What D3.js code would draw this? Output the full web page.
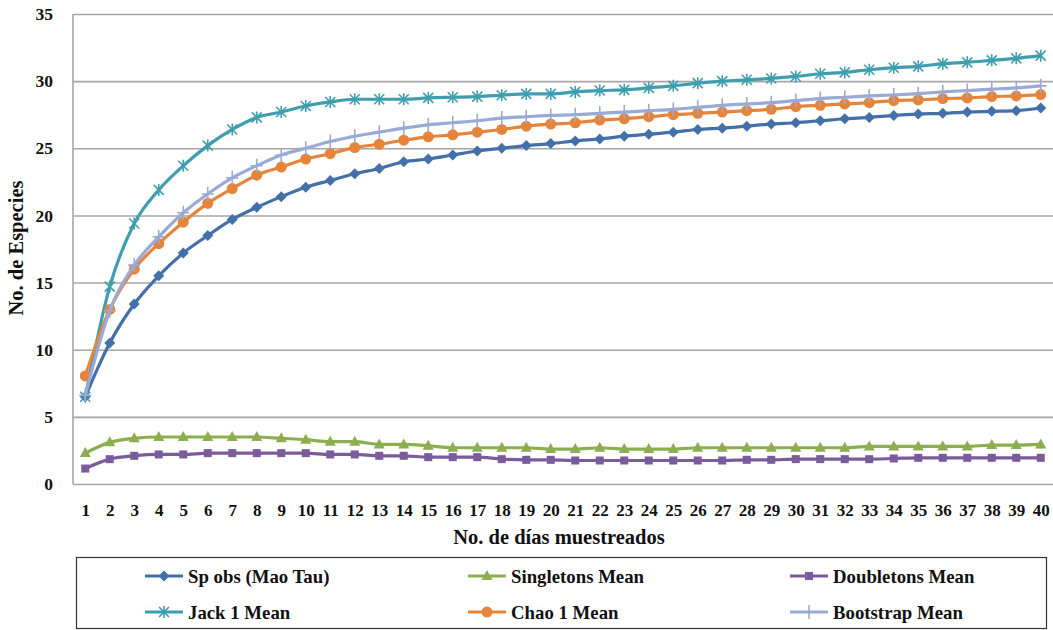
<!DOCTYPE html>
<html>
<head>
<meta charset="utf-8">
<script src="https://cdn.jsdelivr.net/npm/d3@7/dist/d3.min.js"></script>
<style>
  html, body { margin: 0; padding: 0; background: #fff; }
  svg { display: block; }
  text { font-family: "Liberation Serif", "Times New Roman", serif; font-weight: bold; fill: #111; }
</style>
</head>
<body>
<svg id="chart" width="1053" height="630"></svg>
<script>
// Sampling days 1..40
const days = d3.range(1, 41);

// Species accumulation estimators (mean values per number of sampled days)
const spObs = [6.5, 10.5, 13.4, 15.5, 17.2, 18.5, 19.7, 20.6, 21.4, 22.1,
  22.6, 23.1, 23.5, 24.0, 24.2, 24.5, 24.8, 25.0, 25.2, 25.35,
  25.55, 25.7, 25.9, 26.05, 26.2, 26.4, 26.5, 26.65, 26.8, 26.9,
  27.05, 27.2, 27.3, 27.45, 27.55, 27.6, 27.7, 27.75, 27.8, 28.0];

const singletons = [2.3, 3.1, 3.4, 3.5, 3.5, 3.5, 3.5, 3.5, 3.4, 3.3,
  3.15, 3.15, 2.95, 2.95, 2.85, 2.7, 2.7, 2.7, 2.7, 2.6,
  2.6, 2.7, 2.6, 2.6, 2.6, 2.7, 2.7, 2.7, 2.7, 2.7,
  2.7, 2.7, 2.8, 2.8, 2.8, 2.8, 2.8, 2.9, 2.9, 2.95];

const doubletons = [1.15, 1.85, 2.1, 2.2, 2.2, 2.3, 2.3, 2.3, 2.3, 2.3,
  2.2, 2.2, 2.1, 2.1, 2.0, 2.0, 2.0, 1.85, 1.8, 1.8,
  1.75, 1.75, 1.75, 1.75, 1.75, 1.75, 1.75, 1.8, 1.8, 1.85,
  1.85, 1.85, 1.85, 1.9, 1.95, 1.95, 1.95, 1.95, 1.95, 1.95];

const jack1 = [6.5, 14.7, 19.4, 21.9, 23.7, 25.2, 26.4, 27.3, 27.7, 28.15,
  28.45, 28.65, 28.65, 28.65, 28.75, 28.8, 28.85, 28.95, 29.05, 29.05,
  29.2, 29.3, 29.35, 29.5, 29.65, 29.85, 30.0, 30.1, 30.2, 30.35,
  30.55, 30.65, 30.85, 31.0, 31.1, 31.3, 31.4, 31.55, 31.7, 31.9];

const chao1 = [8.05, 13.0, 16.0, 17.9, 19.5, 20.9, 22.0, 23.0, 23.6, 24.2,
  24.6, 25.05, 25.3, 25.6, 25.85, 26.0, 26.2, 26.4, 26.65, 26.8,
  26.9, 27.1, 27.2, 27.35, 27.5, 27.6, 27.7, 27.8, 27.9, 28.1,
  28.2, 28.3, 28.4, 28.55, 28.6, 28.7, 28.75, 28.85, 28.9, 29.0];

const bootstrap = [6.6, 12.9, 16.3, 18.4, 20.2, 21.6, 22.8, 23.7, 24.5, 25.0,
  25.5, 25.9, 26.2, 26.5, 26.75, 26.9, 27.05, 27.25, 27.35, 27.45,
  27.5, 27.6, 27.7, 27.8, 27.9, 28.05, 28.2, 28.3, 28.4, 28.55,
  28.7, 28.8, 28.9, 28.97, 29.07, 29.2, 29.3, 29.4, 29.5, 29.65];

const yTicks = [0, 5, 10, 15, 20, 25, 30, 35];

const seriesNames = ["Sp obs (Mao Tau)", "Singletons Mean", "Doubletons Mean",
  "Jack 1 Mean", "Chao 1 Mean", "Bootstrap Mean"];
const seriesValues = [spObs, singletons, doubletons, jack1, chao1, bootstrap];
const seriesColors = ["#4470a9", "#8cae4f", "#7a5b9c", "#3f9eae", "#e5853c", "#9aaad6"];
const seriesMarkers = ["diamond", "triangle", "square", "asterisk", "circle", "plus"];

const yTitle = "No. de Especies";
const xTitle = "No. de días muestreados";

// Layout
const plot = { left: 73, right: 1053, top: 14, bottom: 484 };

const svg = d3.select("#chart");

const x = d3.scalePoint().domain(days).range([plot.left, plot.right]).padding(0.5);
const y = d3.scaleLinear().domain([0, 35]).range([plot.bottom, plot.top]);

// Horizontal gridlines and y labels
const yAxis = svg.append("g")
  .attr("transform", `translate(${plot.left},0)`)
  .call(d3.axisLeft(y).tickValues(yTicks).tickSize(-(plot.right - plot.left)).tickPadding(20));
yAxis.select(".domain").remove();
yAxis.selectAll(".tick line").attr("stroke", "#a6a6a6").attr("stroke-width", 1.6);
yAxis.selectAll(".tick text")
  .attr("font-size", 17.5).attr("font-family", "Liberation Serif").attr("font-weight", "bold")
  .attr("fill", "#111").attr("dy", "0.32em");

// Left axis line
svg.append("line")
  .attr("x1", plot.left).attr("x2", plot.left)
  .attr("y1", plot.top).attr("y2", plot.bottom)
  .attr("stroke", "#a6a6a6").attr("stroke-width", 1.6);

// Category axis labels
const xAxis = svg.append("g")
  .attr("transform", `translate(0,${plot.bottom})`)
  .call(d3.axisBottom(x).tickSize(0).tickPadding(20));
xAxis.select(".domain").remove();
xAxis.selectAll(".tick text")
  .attr("font-size", 17).attr("font-family", "Liberation Serif").attr("font-weight", "bold")
  .attr("fill", "#111");

// Axis titles
svg.append("text")
  .attr("x", 559).attr("y", 544)
  .attr("text-anchor", "middle").attr("font-size", 20.5)
  .text(xTitle);

svg.append("text")
  .attr("transform", "translate(23,248) rotate(-90)")
  .attr("text-anchor", "middle").attr("font-size", 20.5)
  .text(yTitle);

// Marker drawing
function drawMarker(g, type, color) {
  switch (type) {
    case "diamond":
      g.append("path").attr("d", "M0,-5.5L5.5,0L0,5.5L-5.5,0Z").attr("fill", color);
      break;
    case "triangle":
      g.append("path").attr("d", "M0,-6L5.5,4L-5.5,4Z").attr("fill", color);
      break;
    case "square":
      g.append("rect").attr("x", -4).attr("y", -4).attr("width", 8).attr("height", 8).attr("fill", color);
      break;
    case "circle":
      g.append("circle").attr("r", 5.5).attr("fill", color);
      break;
    case "asterisk":
      g.append("path")
        .attr("d", "M-5,-5L5,5M-5,5L5,-5M0,-6L0,6")
        .attr("stroke", color).attr("stroke-width", 1.6).attr("fill", "none");
      break;
    case "plus":
      g.append("path")
        .attr("d", "M0,-7L0,7M-6,0L6,0")
        .attr("stroke", color).attr("stroke-width", 1.6).attr("fill", "none");
      break;
  }
}

const line = d3.line()
  .x((d, i) => x(days[i]))
  .y(d => y(d))
  .curve(d3.curveMonotoneX);

// Draw series (order chosen so upper curves sit on top)
const drawOrder = [1, 2, 0, 3, 4, 5];
drawOrder.forEach(si => {
  const vals = seriesValues[si];
  const g = svg.append("g");
  g.append("path")
    .attr("d", line(vals))
    .attr("fill", "none")
    .attr("stroke", seriesColors[si])
    .attr("stroke-width", 3.2)
    .attr("stroke-linejoin", "round");
  g.selectAll("g.m").data(vals).join("g")
    .attr("class", "m")
    .attr("transform", (d, i) => `translate(${x(days[i])},${y(d)})`)
    .each(function () { drawMarker(d3.select(this), seriesMarkers[si], seriesColors[si]); });
});

// Legend
const legend = svg.append("g");
legend.append("rect")
  .attr("x", 76.5).attr("y", 557.5).attr("width", 970).attr("height", 71)
  .attr("fill", "#fff").attr("stroke", "#333").attr("stroke-width", 1.2);

const legendCols = [145, 468, 790];
const legendRows = [576, 612];
seriesNames.forEach((name, i) => {
  const cx = legendCols[i % 3];
  const cy = legendRows[Math.floor(i / 3)];
  const item = legend.append("g").attr("transform", `translate(${cx},${cy})`);
  item.append("line").attr("x1", 0).attr("x2", 38).attr("y1", 0).attr("y2", 0)
    .attr("stroke", seriesColors[i]).attr("stroke-width", 3.2);
  const m = item.append("g").attr("transform", "translate(19,0)");
  drawMarker(m, seriesMarkers[i], seriesColors[i]);
  item.append("text").attr("x", 43).attr("y", 0).attr("dy", "0.35em")
    .attr("font-size", 18.8).text(name);
});
</script>
</body>
</html>
